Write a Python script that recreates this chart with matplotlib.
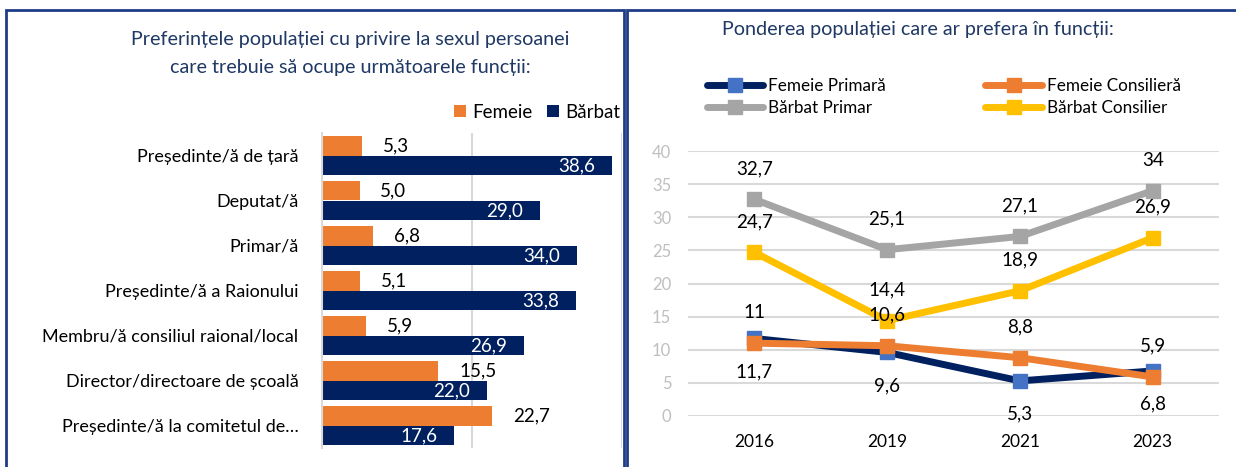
import matplotlib
matplotlib.use("Agg")
import matplotlib.pyplot as plt
from matplotlib.patches import Rectangle
import numpy as np

plt.rcParams['font.family'] = ['Lato', 'DejaVu Sans']

# left chart data
functii = [
    "Președinte/ă de țară", "Deputat/ă", "Primar/ă", "Președinte/ă a Raionului",
    "Membru/ă consiliul raional/local", "Director/directoare de școală",
    "Președinte/ă la comitetul de…",
]
femeie = [5.3, 5.0, 6.8, 5.1, 5.9, 15.5, 22.7]
barbat = [38.6, 29.0, 34.0, 33.8, 26.9, 22.0, 17.6]

# right chart data
ani = ["2016", "2019", "2021", "2023"]
femeie_primara = [11.7, 9.6, 5.3, 6.8]
femeie_consiliera = [11, 10.6, 8.8, 5.9]
barbat_primar = [32.7, 25.1, 27.1, 34]
barbat_consilier = [24.7, 14.4, 18.9, 26.9]

ORANGE = '#ED7D31'
NAVY = '#002060'
GRAY = '#A5A5A5'
YELLOW = '#FFC000'
BLUE = '#4472C4'
TITLE = '#1F3864'
BORDER = '#1F3C88'
GRID = '#D9D9D9'

W, H = 1236, 467
fig = plt.figure(figsize=(W / 100, H / 100), dpi=100)


def fx(px):
    return px / W


def fy(py):
    return 1 - py / H


def fmt(v, dec=True):
    if dec:
        return f"{v:.1f}".replace('.', ',')
    return f"{v:g}".replace('.', ',')


# panel borders
for x0, x1 in [(6, 624), (627, 1245)]:
    fig.add_artist(Rectangle((fx(x0), fy(480)), fx(x1 - x0), fy(10) - fy(480),
                             transform=fig.transFigure, fill=False,
                             edgecolor=BORDER, lw=2, clip_on=False))

# ---- left: bars
ax1 = fig.add_axes([fx(322), fy(448), fx(300), fy(133) - fy(448)])
y = np.arange(len(functii))
h = 0.444
ax1.barh(y - h / 2, femeie, height=h, color=ORANGE, label='Femeie')
ax1.barh(y + h / 2, barbat, height=h, color=NAVY, label='Bărbat')
for i in range(len(functii)):
    ax1.annotate(fmt(femeie[i]), (femeie[i], y[i] - h / 2), xytext=(15, 0),
                 textcoords='offset points', ha='left', va='center',
                 fontsize=13.5, color='black')
    ax1.annotate(fmt(barbat[i]), (barbat[i], y[i] + h / 2), xytext=(-12, 0),
                 textcoords='offset points', ha='right', va='center',
                 fontsize=13.5, color='white')
ax1.set_xlim(0, 40)
ax1.set_ylim(len(functii) - 0.5, -0.5)
ax1.set_xticks([20, 40])
ax1.xaxis.grid(True, color=GRID, lw=1.5)
ax1.set_axisbelow(True)
ax1.tick_params(axis='x', length=0, labelbottom=False)
ax1.set_yticks(y)
ax1.set_yticklabels(functii, fontsize=13)
ax1.tick_params(axis='y', length=0, pad=17)
for s in ['top', 'right', 'bottom']:
    ax1.spines[s].set_visible(False)
ax1.spines['left'].set_color(GRID)
ax1.spines['left'].set_linewidth(1.5)

fig.text(fx(350), fy(40), "Preferințele populației cu privire la sexul persoanei",
         ha='center', va='center', fontsize=14.2, color=TITLE)
fig.text(fx(350), fy(67), "care trebuie să ocupe următoarele funcții:",
         ha='center', va='center', fontsize=14.2, color=TITLE)
fig.legend(*ax1.get_legend_handles_labels(), loc='center right',
           bbox_to_anchor=(fx(620), fy(112)), ncol=2, frameon=False,
           fontsize=13.5, handlelength=0.65, handleheight=0.65,
           handletextpad=0.3, columnspacing=0.8, borderaxespad=0, borderpad=0)

# ---- right: lines
ax2 = fig.add_axes([fx(688), fy(416), fx(531), fy(151) - fy(416)])
x = np.arange(len(ani))
series = [
    (femeie_primara, NAVY, BLUE, 'Femeie Primară', -24),
    (femeie_consiliera, ORANGE, ORANGE, 'Femeie Consilieră', 22),
    (barbat_primar, GRAY, GRAY, 'Bărbat Primar', 22),
    (barbat_consilier, YELLOW, YELLOW, 'Bărbat Consilier', 22),
]
handles = {}
for vals, lc, mc, name, off in series:
    ln, = ax2.plot(x, vals, color=lc, lw=5, marker='s', markersize=10,
                   markerfacecolor=mc, markeredgecolor=mc, label=name,
                   solid_capstyle='round')
    handles[name] = ln
    for xi, v in zip(x, vals):
        ax2.annotate(fmt(v, dec=False), (xi, v), xytext=(0, off),
                     textcoords='offset points', ha='center', va='center',
                     fontsize=13.5, color='black')

ax2.set_xlim(-0.5, 3.5)
ax2.set_ylim(0, 40)
ax2.set_yticks(range(0, 41, 5))
ax2.yaxis.grid(True, color=GRID, lw=1.5)
ax2.set_axisbelow(True)
ax2.set_xticks(x)
ax2.set_xticklabels(ani, fontsize=12.5)
ax2.tick_params(axis='x', length=0, pad=13)
ax2.tick_params(axis='y', length=0, labelsize=12, labelcolor='#BFBFBF', pad=12)
for s in ax2.spines.values():
    s.set_visible(False)

fig.text(fx(918), fy(29), "Ponderea populației care ar prefera în funcții:",
         ha='center', va='center', fontsize=14.2, color=TITLE)

order = ['Femeie Primară', 'Bărbat Primar', 'Femeie Consilieră', 'Bărbat Consilier']
fig.legend([handles[n] for n in order], order, loc='upper left',
           bbox_to_anchor=(fx(707), fy(78)), ncol=2, frameon=False,
           fontsize=12.3, handlelength=3.3, handletextpad=0.3,
           columnspacing=5.8, labelspacing=0.35, borderaxespad=0, borderpad=0)

fig.savefig('out.png', dpi=100)
